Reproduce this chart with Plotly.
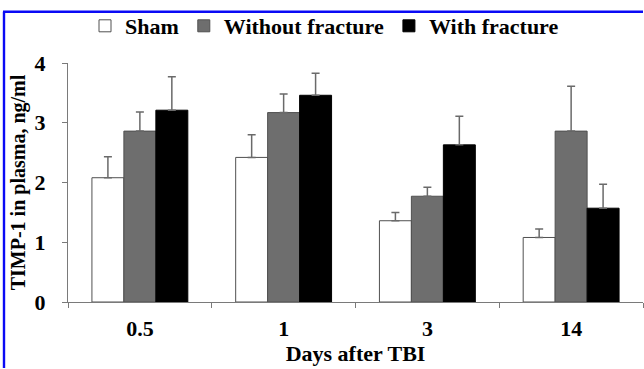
import plotly.graph_objects as go

# ---- data ----
days = ["0.5", "1", "3", "14"]
sham = [2.08, 2.42, 1.36, 1.08]
sham_err = [0.35, 0.38, 0.14, 0.14]
without_fx = [2.86, 3.17, 1.77, 2.86]
without_fx_err = [0.32, 0.31, 0.15, 0.75]
with_fx = [3.21, 3.46, 2.63, 1.57]
with_fx_err = [0.56, 0.37, 0.48, 0.40]
y_ticks = [0, 1, 2, 3, 4]

W, H = 644, 369
ML, MR, MT, MB = 68, 1, 63, 67
FONT = "Liberation Serif"

fig = go.Figure()

def add(name, vals, errs, fill, line):
    fig.add_trace(go.Bar(
        name=name, x=days, y=vals,
        marker=dict(color=fill, line=dict(color=line, width=1)),
        error_y=dict(type="data", array=errs, arrayminus=[0] * len(errs),
                     symmetric=False, color="#6a6a6a", thickness=1.5, width=4),
    ))

add("Sham", sham, sham_err, "#ffffff", "#505050")
add("Without fracture", without_fx, without_fx_err, "#6e6e6e", "#505050")
add("With fracture", with_fx, with_fx_err, "#000000", "#000000")

pw = W - ML - MR
ph = H - MT - MB
def px(x):
    return (x - ML) / pw
def py(y):
    return (H - MB - y) / ph

# blue frame of the scanned figure: only its top and left edges are in view
blue = "#0a0af5"
shapes = [
    dict(type="line", xref="paper", yref="paper", x0=px(3), x1=px(W - 1),
         y0=py(11.7), y1=py(11.7), line=dict(color=blue, width=2.4), layer="below"),
    dict(type="line", xref="paper", yref="paper", x0=px(4), x1=px(4),
         y0=py(11.7), y1=py(H - 1), line=dict(color=blue, width=2.4), layer="below"),
]

fig.update_layout(
    width=W, height=H,
    margin=dict(l=ML, r=MR, t=MT, b=MB, autoexpand=False),
    paper_bgcolor="white", plot_bgcolor="white",
    barmode="group", bargap=0.333, bargroupgap=0,
    font=dict(family=FONT, size=20, color="#000000", weight="bold"),
    showlegend=True,
    legend=dict(orientation="h", x=px(85), xanchor="left", y=py(26), yanchor="middle",
                font=dict(family=FONT, size=22, color="#000000", weight="bold"),
                itemwidth=30, tracegroupgap=0, bgcolor="rgba(0,0,0,0)"),
    shapes=shapes,
    xaxis=dict(
        type="category", tickson="boundaries", ticks="outside", ticklen=5,
        tickcolor="#7a7a7a", showline=True, linecolor="#7a7a7a", linewidth=1,
        showgrid=False, zeroline=False, ticklabelstandoff=7,
        tickfont=dict(family=FONT, size=22, color="#000000", weight="bold"),
        title=dict(text="Days after TBI", standoff=4,
                   font=dict(family=FONT, size=22, color="#000000", weight="bold")),
    ),
    yaxis=dict(
        range=[0, 4], tickvals=y_ticks, ticks="outside", ticklen=5,
        tickcolor="#7a7a7a", showline=True, linecolor="#7a7a7a", linewidth=1,
        showgrid=False, zeroline=False, ticklabelstandoff=12,
        tickfont=dict(family=FONT, size=22, color="#000000", weight="bold"),
        title=dict(text="TIMP-1 in plasma, ng/ml", standoff=3,
                   font=dict(family=FONT, size=20, color="#000000", weight="bold")),
    ),
)

fig.write_html("out.html")
